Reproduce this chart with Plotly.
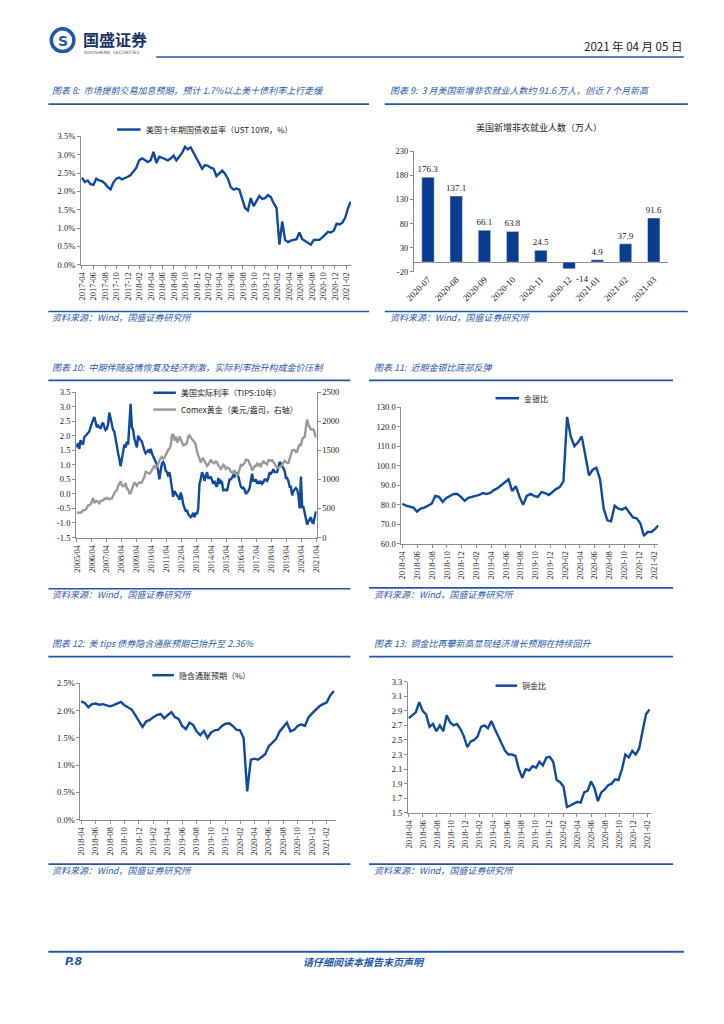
import plotly.graph_objects as go
import pandas as pd

W, H = 724, 1024
OFF = 8  # browser body margin
def fx(x): return (x - OFF) / W
def fy(y): return 1 - (y - OFF) / H

BLUE = "#0f4a9f"
BAR = "#0a3c8f"
GRAY = "#9a9a9a"
AX = "#8c8c8c"
TXT = "#1a1a1a"
HEAD = "#2258a6"
SERIF = "Liberation Serif, Times New Roman, serif"
CJK = "Noto Sans CJK SC"

# ---------------- data ----------------
ust_start, ust_end = "2017-04-01", "2021-02-24"
ust10y = [2.38, 2.26, 2.30, 2.20, 2.18, 2.35, 2.30, 2.28, 2.22, 2.12, 2.06, 2.25,
          2.35, 2.38, 2.33, 2.36, 2.40, 2.45, 2.55, 2.65, 2.85, 2.90, 2.86, 2.80,
          2.85, 3.08, 2.78, 2.95, 2.92, 2.88, 2.85, 2.90, 2.98, 2.85, 2.95, 3.05,
          3.22, 3.15, 3.20, 3.05, 2.90, 2.75, 2.62, 2.72, 2.70, 2.65, 2.62, 2.42,
          2.50, 2.57, 2.48, 2.35, 2.12, 2.05, 2.08, 2.05, 1.80, 1.55, 1.48, 1.82,
          1.60, 1.75, 1.88, 1.80, 1.82, 1.90, 1.85, 1.68, 1.55, 0.55, 1.18, 0.68,
          0.62, 0.66, 0.68, 0.70, 0.88, 0.70, 0.65, 0.60, 0.55, 0.68, 0.68, 0.68,
          0.75, 0.82, 0.90, 0.88, 0.93, 1.12, 1.10, 1.15, 1.28, 1.55, 1.73]

nfp_months = ["2020-07", "2020-08", "2020-09", "2020-10", "2020-11",
              "2020-12", "2021-01", "2021-02", "2021-03"]
nfp_values = [176.3, 137.1, 66.1, 63.8, 24.5, -14, 4.9, 37.9, 91.6]
nfp_ticks = [-20, 30, 80, 130, 180, 230]

tips_start, tips_end = "2005-04-01", "2021-03-20"
tips_ticks = [-1.5, -1.0, -0.5, 0.0, 0.5, 1.0, 1.5, 2.0, 2.5, 3.0, 3.5]
tips10y = [1.60, 1.75, 1.55, 1.85, 1.75, 1.70, 1.95, 2.00, 2.05,
           2.10, 2.15, 2.30, 2.45, 2.55, 2.65, 2.45, 2.30, 2.35, 2.30, 2.25, 2.40,
           2.45, 2.30, 2.20, 2.25, 2.40, 2.80, 2.60, 2.40, 2.20, 2.15, 1.85, 1.70,
           1.40, 1.20, 0.95, 1.20, 1.50, 1.70, 1.60, 1.80, 1.70, 2.60, 3.10, 2.30,
           2.20, 1.90, 1.75, 1.60, 2.00, 1.90, 1.85, 1.80, 1.60, 1.50, 1.40, 1.45,
           1.50, 1.45, 1.55, 1.40, 1.30, 1.20, 1.10, 1.00, 0.80, 0.50, 0.80, 1.05,
           1.10, 1.00, 0.80, 0.75, 0.60, 0.75, 0.50, 0.10, -0.10, 0.10, 0.00, -0.05,
           -0.10, -0.20, 0.05, -0.10, -0.35, -0.45, -0.60, -0.55, -0.70, -0.75, -0.80, -0.75,
           -0.65, -0.80, -0.65, -0.70, -0.50, 0.35, 0.50, 0.75, 0.65, 0.45, 0.60, 0.75,
           0.55, 0.55, 0.60, 0.50, 0.35, 0.45, 0.30, 0.25, 0.55, 0.35, 0.45, 0.40,
           0.10, 0.15, 0.15, 0.10, 0.35, 0.50, 0.50, 0.55, 0.65, 0.60, 0.70, 0.72,
           0.60, 0.40, 0.25, 0.20, 0.22, 0.15, 0.00, 0.05, 0.10, 0.20, 0.45, 0.70,
           0.45, 0.45, 0.50, 0.35, 0.45, 0.35, 0.45, 0.35, 0.40, 0.50, 0.50, 0.45,
           0.55, 0.75, 0.70, 0.75, 0.85, 0.75, 0.75, 0.75, 0.90, 1.10, 1.05, 0.95,
           0.85, 0.80, 0.55, 0.55, 0.45, 0.25, 0.25, -0.05, 0.10, 0.15, 0.20, 0.15,
           -0.05, -0.50, 0.60, -0.45, -0.45, -0.65, -0.85, -1.05, -0.95, -0.85, -0.80, -0.98,
           -1.00, -0.80, -0.60]
comex_gold = [430, 425, 430, 425, 440, 470, 470, 480, 510,
              550, 560, 570, 620, 680, 590, 630, 630, 600, 590, 630, 630,
              640, 670, 660, 680, 670, 660, 670, 670, 720, 760, 800, 810,
              890, 920, 970, 900, 880, 890, 940, 840, 830, 760, 760, 830,
              880, 950, 920, 890, 930, 950, 940, 950, 1000, 1040, 1130, 1120,
              1110, 1100, 1120, 1150, 1200, 1240, 1200, 1220, 1270, 1340, 1370, 1390,
              1360, 1370, 1420, 1470, 1510, 1530, 1580, 1760, 1780, 1670, 1740, 1640,
              1660, 1740, 1680, 1650, 1590, 1600, 1600, 1630, 1740, 1760, 1720, 1690,
              1670, 1630, 1600, 1480, 1420, 1340, 1290, 1350, 1360, 1320, 1280, 1230,
              1250, 1300, 1340, 1300, 1290, 1280, 1310, 1300, 1240, 1220, 1180, 1200,
              1250, 1230, 1180, 1200, 1200, 1180, 1130, 1120, 1130, 1160, 1090, 1070,
              1100, 1200, 1250, 1240, 1260, 1280, 1340, 1340, 1330, 1270, 1230, 1150,
              1190, 1230, 1230, 1270, 1240, 1260, 1230, 1280, 1320, 1280, 1280, 1260,
              1330, 1330, 1320, 1330, 1300, 1280, 1240, 1200, 1200, 1220, 1220, 1250,
              1290, 1320, 1300, 1280, 1280, 1360, 1410, 1500, 1510, 1500, 1470, 1480,
              1560, 1600, 1590, 1690, 1720, 1730, 1900, 2030, 1940, 1900, 1860, 1860,
              1860, 1800, 1720]

gsr_start, gsr_end = "2018-04-01", "2021-02-19"
gold_silver = [80.5, 79.5, 79.0, 78.5, 76.5, 78.0, 78.5, 79.5, 80.5, 84.5,
               84.0, 81.5, 83.5, 84.5, 85.5, 85.5, 84.0, 82.0, 83.5, 84.0,
               84.5, 85.0, 86.0, 85.5, 86.0, 87.5, 88.5, 90.0, 91.5, 93.0,
               87.0, 89.5, 84.0, 80.0, 84.5, 85.5, 84.5, 84.0, 86.5, 86.0,
               85.0, 86.5, 88.0, 89.0, 92.0, 125.0, 115.0, 110.0, 112.0, 115.0,
               104.0, 95.0, 98.0, 99.0, 93.0, 78.0, 72.0, 71.5, 79.5, 78.0,
               77.5, 78.5, 76.0, 73.5, 73.0, 70.5, 64.0, 66.0, 66.0, 67.5, 69.5]

bei_start, bei_end = "2018-04-01", "2021-03-03"
breakeven = [2.17, 2.14, 2.06, 2.12, 2.13, 2.11, 2.12, 2.10, 2.08, 2.10,
             2.13, 2.16, 2.10, 2.06, 2.02, 1.92, 1.82, 1.70, 1.80, 1.83,
             1.88, 1.92, 1.94, 1.86, 1.92, 1.97, 1.88, 1.85, 1.72, 1.66,
             1.78, 1.74, 1.62, 1.55, 1.63, 1.50, 1.60, 1.64, 1.65, 1.72,
             1.76, 1.77, 1.72, 1.65, 1.64, 1.50, 0.52, 1.10, 1.12, 1.10,
             1.15, 1.20, 1.35, 1.42, 1.48, 1.62, 1.70, 1.78, 1.62, 1.65,
             1.72, 1.75, 1.72, 1.88, 1.95, 2.02, 2.08, 2.12, 2.15, 2.28, 2.36]

cg_start, cg_end = "2018-04-01", "2021-02-10"
copper_gold = [2.80, 2.84, 2.88, 3.02, 2.90, 2.85, 2.68, 2.72, 2.62, 2.70,
               2.62, 2.84, 2.74, 2.70, 2.72, 2.65, 2.55, 2.40, 2.48, 2.50,
               2.55, 2.68, 2.70, 2.66, 2.76, 2.65, 2.55, 2.45, 2.35, 2.30,
               2.30, 2.28, 2.10, 1.98, 2.10, 2.08, 2.14, 2.12, 2.20, 2.15,
               2.26, 2.27, 2.20, 1.95, 1.92, 1.86, 1.58, 1.60, 1.62, 1.65,
               1.64, 1.78, 1.80, 1.93, 1.84, 1.66, 1.78, 1.82, 1.88, 1.90,
               1.96, 1.95, 2.10, 2.30, 2.26, 2.35, 2.30, 2.38, 2.62, 2.85, 2.92]

def dates(start, end, values):
    return pd.date_range(start, end, periods=len(values))

LW = 2.4
fig = go.Figure()

# chart 8
fig.add_trace(go.Scatter(x=dates(ust_start, ust_end, ust10y), y=ust10y, mode="lines",
                         line=dict(color=BLUE, width=LW), xaxis="x", yaxis="y"))
# chart 9
fig.add_trace(go.Bar(x=nfp_months, y=nfp_values, marker_color=BAR, width=0.44,
                     text=[f"{v:g}" if v > 0 else "" for v in nfp_values],
                     textposition="outside", cliponaxis=False, constraintext="none",
                     textfont=dict(family=SERIF, size=9, color=TXT),
                     xaxis="x2", yaxis="y2"))
# chart 10
fig.add_trace(go.Scatter(x=dates(tips_start, tips_end, comex_gold), y=comex_gold, mode="lines",
                         line=dict(color=GRAY, width=LW), xaxis="x3", yaxis="y4"))
fig.add_trace(go.Scatter(x=dates(tips_start, tips_end, tips10y), y=tips10y, mode="lines",
                         line=dict(color=BLUE, width=LW), xaxis="x3", yaxis="y3"))
# chart 11
fig.add_trace(go.Scatter(x=dates(gsr_start, gsr_end, gold_silver), y=gold_silver, mode="lines",
                         line=dict(color=BLUE, width=LW), xaxis="x5", yaxis="y5"))
# chart 12
fig.add_trace(go.Scatter(x=dates(bei_start, bei_end, breakeven), y=breakeven, mode="lines",
                         line=dict(color=BLUE, width=LW), xaxis="x6", yaxis="y6"))
# chart 13
fig.add_trace(go.Scatter(x=dates(cg_start, cg_end, copper_gold), y=copper_gold, mode="lines",
                         line=dict(color=BLUE, width=LW), xaxis="x7", yaxis="y7"))

tickfont = dict(family=SERIF, size=8.5, color=TXT)

def xdate(domain, rng, tick0, fmt, dtick, anchor):
    return dict(domain=[fx(domain[0]), fx(domain[1])], range=rng, type="date",
                tickmode="linear", tick0=tick0, dtick=dtick, tickformat=fmt,
                tickangle=-90, tickfont=tickfont, showline=True, linecolor=AX,
                linewidth=1, ticks="outside", ticklen=3, tickcolor=AX,
                showgrid=False, zeroline=False, anchor=anchor, fixedrange=True)

def ylin(domain, rng, dtick, fmt, anchor, suffix="", tick0=None, side="left"):
    d = dict(domain=[fy(domain[1]), fy(domain[0])], range=rng, dtick=dtick,
             tickformat=fmt, ticksuffix=suffix, tickfont=tickfont, showline=True,
             linecolor=AX, linewidth=1, ticks="outside", ticklen=3, tickcolor=AX,
             showgrid=False, zeroline=False, anchor=anchor, side=side, fixedrange=True)
    if tick0 is not None:
        d["tick0"] = tick0
    return d

y3 = ylin((391, 537.7), [-1.5, 3.5], 0.5, ".1f", "x3")
y3.update(tickmode="array", tickvals=tips_ticks, ticktext=[f"{v:.1f}" for v in tips_ticks])

layout = dict(
    width=W, height=H, margin=dict(l=0, r=0, t=0, b=0), showlegend=False,
    paper_bgcolor="white", plot_bgcolor="white",
    xaxis=xdate((73.3, 348.5), ["2017-03-27", "2021-02-24"], "2017-04-01", "%Y-%m", "M2", "y"),
    yaxis=ylin((132.7, 262.3), [0, 3.5], 0.5, ".1f", "x", suffix="%"),
    xaxis2=dict(domain=[fx(412.7), fx(671.7)], type="category", range=[-0.5, 8.5],
                tickangle=-45, tickfont=dict(family=SERIF, size=9, color=TXT),
                showline=False, ticks="", showgrid=False, anchor="y2", fixedrange=True),
    yaxis2=dict(domain=[fy(269.3), fy(147.7)], range=[-20, 230], tickmode="array",
                tickvals=nfp_ticks, ticktext=[str(v) for v in nfp_ticks],
                tickfont=tickfont, showline=True, linecolor=AX,
                ticks="outside", ticklen=3, tickcolor=AX, showgrid=False,
                zeroline=True, zerolinecolor=AX, zerolinewidth=1, anchor="x2",
                fixedrange=True),
    xaxis3=xdate((68.3, 313.5), ["2005-03-16", "2021-04-05"], "2005-04-01", "%Y/%m", "M12", "y3"),
    yaxis3=y3,
    yaxis4=dict(range=[0, 2500], dtick=500, tickfont=tickfont, showline=True,
                linecolor=AX, ticks="outside", ticklen=3, tickcolor=AX, showgrid=False,
                zeroline=False, overlaying="y3", side="right", anchor="x3", fixedrange=True),
    xaxis5=xdate((400, 662), ["2018-03-28", "2021-02-18"], "2018-04-01", "%Y-%m", "M2", "y5"),
    yaxis5=ylin((406, 544), [60, 130], 10, ".1f", "x5"),
    xaxis6=xdate((72.7, 333), ["2018-03-29", "2021-03-11"], "2018-04-01", "%Y-%m", "M2", "y6"),
    yaxis6=ylin((685, 822.7), [0, 2.5], 0.5, ".1f", "x6", suffix="%"),
    xaxis7=xdate((406.7, 655), ["2018-03-28", "2021-02-19"], "2018-04-01", "%Y-%m", "M2", "y7"),
    yaxis7=ylin((683.3, 815.7), [1.5, 3.3], 0.2, ".1f", "x7", tick0=1.5),
)
fig.update_layout(**layout)

shapes = []
ann = []

def hline(x0, x1, y, color=HEAD, width=1.5):
    shapes.append(dict(type="line", xref="paper", yref="paper", x0=fx(x0), x1=fx(x1),
                       y0=fy(y), y1=fy(y), line=dict(color=color, width=width)))

def text(x, y, s, size=9, color=TXT, family=CJK, xanchor="left", italic=False, bold=False):
    if italic:
        s = f"<i>{s}</i>"
    if bold:
        s = f"<b>{s}</b>"
    ann.append(dict(x=fx(x), y=fy(y), xref="paper", yref="paper", text=s, showarrow=False,
                    xanchor=xanchor, yanchor="middle",
                    font=dict(family=family, size=size, color=color)))

# header
shapes.append(dict(type="circle", xref="paper", yref="paper", x0=fx(43), x1=fx(66),
                   y0=fy(47), y1=fy(24), fillcolor="white", line=dict(color=HEAD, width=3.5)))
text(54.5, 36, "S", size=14, color=HEAD, family="DejaVu Sans", xanchor="center", bold=True)
text(73, 34.5, "国盛证券", size=16, color="#1b3566", bold=True)
text(74, 47.5, "GUOSHENG  SECURITIES", size=4.5, color="#555", family="DejaVu Sans")
text(688, 41, "2021 年 04 月 05 日", size=11.5, color=TXT, xanchor="right")
hline(150, 688, 52.5, width=1.5)

# section titles and source lines
TCOL = "#2a5ba8"
titles = [
    (42, 86, "图表 8:  市场提前交易加息预期，预计 1.7%以上美十债利率上行走缓", 40, 367, 100),
    (386, 86, "图表 9:  3 月美国新增非农就业人数约 91.6 万人，创近 7 个月新高", 383, 692, 100),
    (42, 366, "图表 10:  中期伴随疫情恢复及经济刺激，实际利率抬升构成金价压制", 40, 348, 379),
    (370, 366, "图表 11:  近期金银比底部反弹", 367, 677, 379),
    (42, 645, "图表 12:  美 tips 债券隐含通胀预期已抬升至 2.36%", 40, 348, 658),
    (370, 645, "图表 13:  铜金比再攀新高显现经济增长预期在持续回升", 367, 677, 658),
]
for tx, ty, s, l0, l1, ly in titles:
    text(tx, ty, s, size=9, color=TCOL, italic=True)
    hline(l0, l1, ly, color=HEAD, width=1.6)

sources = [(42, 316, 40, 367, 309.5), (386, 316, 383, 692, 309.5),
           (42, 595, 40, 348, 589.5), (370, 595, 367, 677, 588.5),
           (42, 874, 40, 348, 867.5), (370, 874, 367, 677, 867.5)]
for tx, ty, l0, l1, ly in sources:
    hline(l0, l1, ly, color=HEAD, width=1.6)
    text(tx, ty, "资料来源：Wind，国盛证券研究所", size=9, color=TCOL, italic=True)

# legends
def legend(x0, x1, y, label, color):
    shapes.append(dict(type="line", xref="paper", yref="paper", x0=fx(x0), x1=fx(x1),
                       y0=fy(y), y1=fy(y), line=dict(color=color, width=2.5)))
    text(x1 + 3, y, label, size=8, color=TXT)

legend(110, 134, 125.7, "美国十年期国债收益率（UST 10YR，%）", BLUE)
legend(147, 170, 391.5, "美国实际利率（TIPS:10年）", BLUE)
legend(147, 170, 408.5, "Comex黄金（美元/盎司，右轴）", GRAY)
legend(496, 520, 397, "金银比", BLUE)
legend(146, 168, 676.7, "隐含通胀预期（%）", BLUE)
legend(496, 518, 687.3, "铜金比", BLUE)

text(540, 124, "美国新增非农就业人数（万人）", size=9, color=TXT, xanchor="center")

# negative bar labels
for m, v in zip(nfp_months, nfp_values):
    if v < 0:
        ann.append(dict(x=m, y=v, xref="x2", yref="y2", text=f"{v:g}", showarrow=False,
                        xanchor="center", yanchor="top", xshift=13, yshift=-3,
                        font=dict(family=SERIF, size=9, color=TXT)))

# footer
hline(40, 688, 956, color=HEAD, width=2)
text(55, 965.5, "P.8", size=11, color=HEAD, family="DejaVu Sans", italic=True, bold=True)
text(362, 965.5, "请仔细阅读本报告末页声明", size=10, color=HEAD, xanchor="center", italic=True, bold=True)

fig.update_layout(shapes=shapes, annotations=ann)
fig.write_html("out.html")
